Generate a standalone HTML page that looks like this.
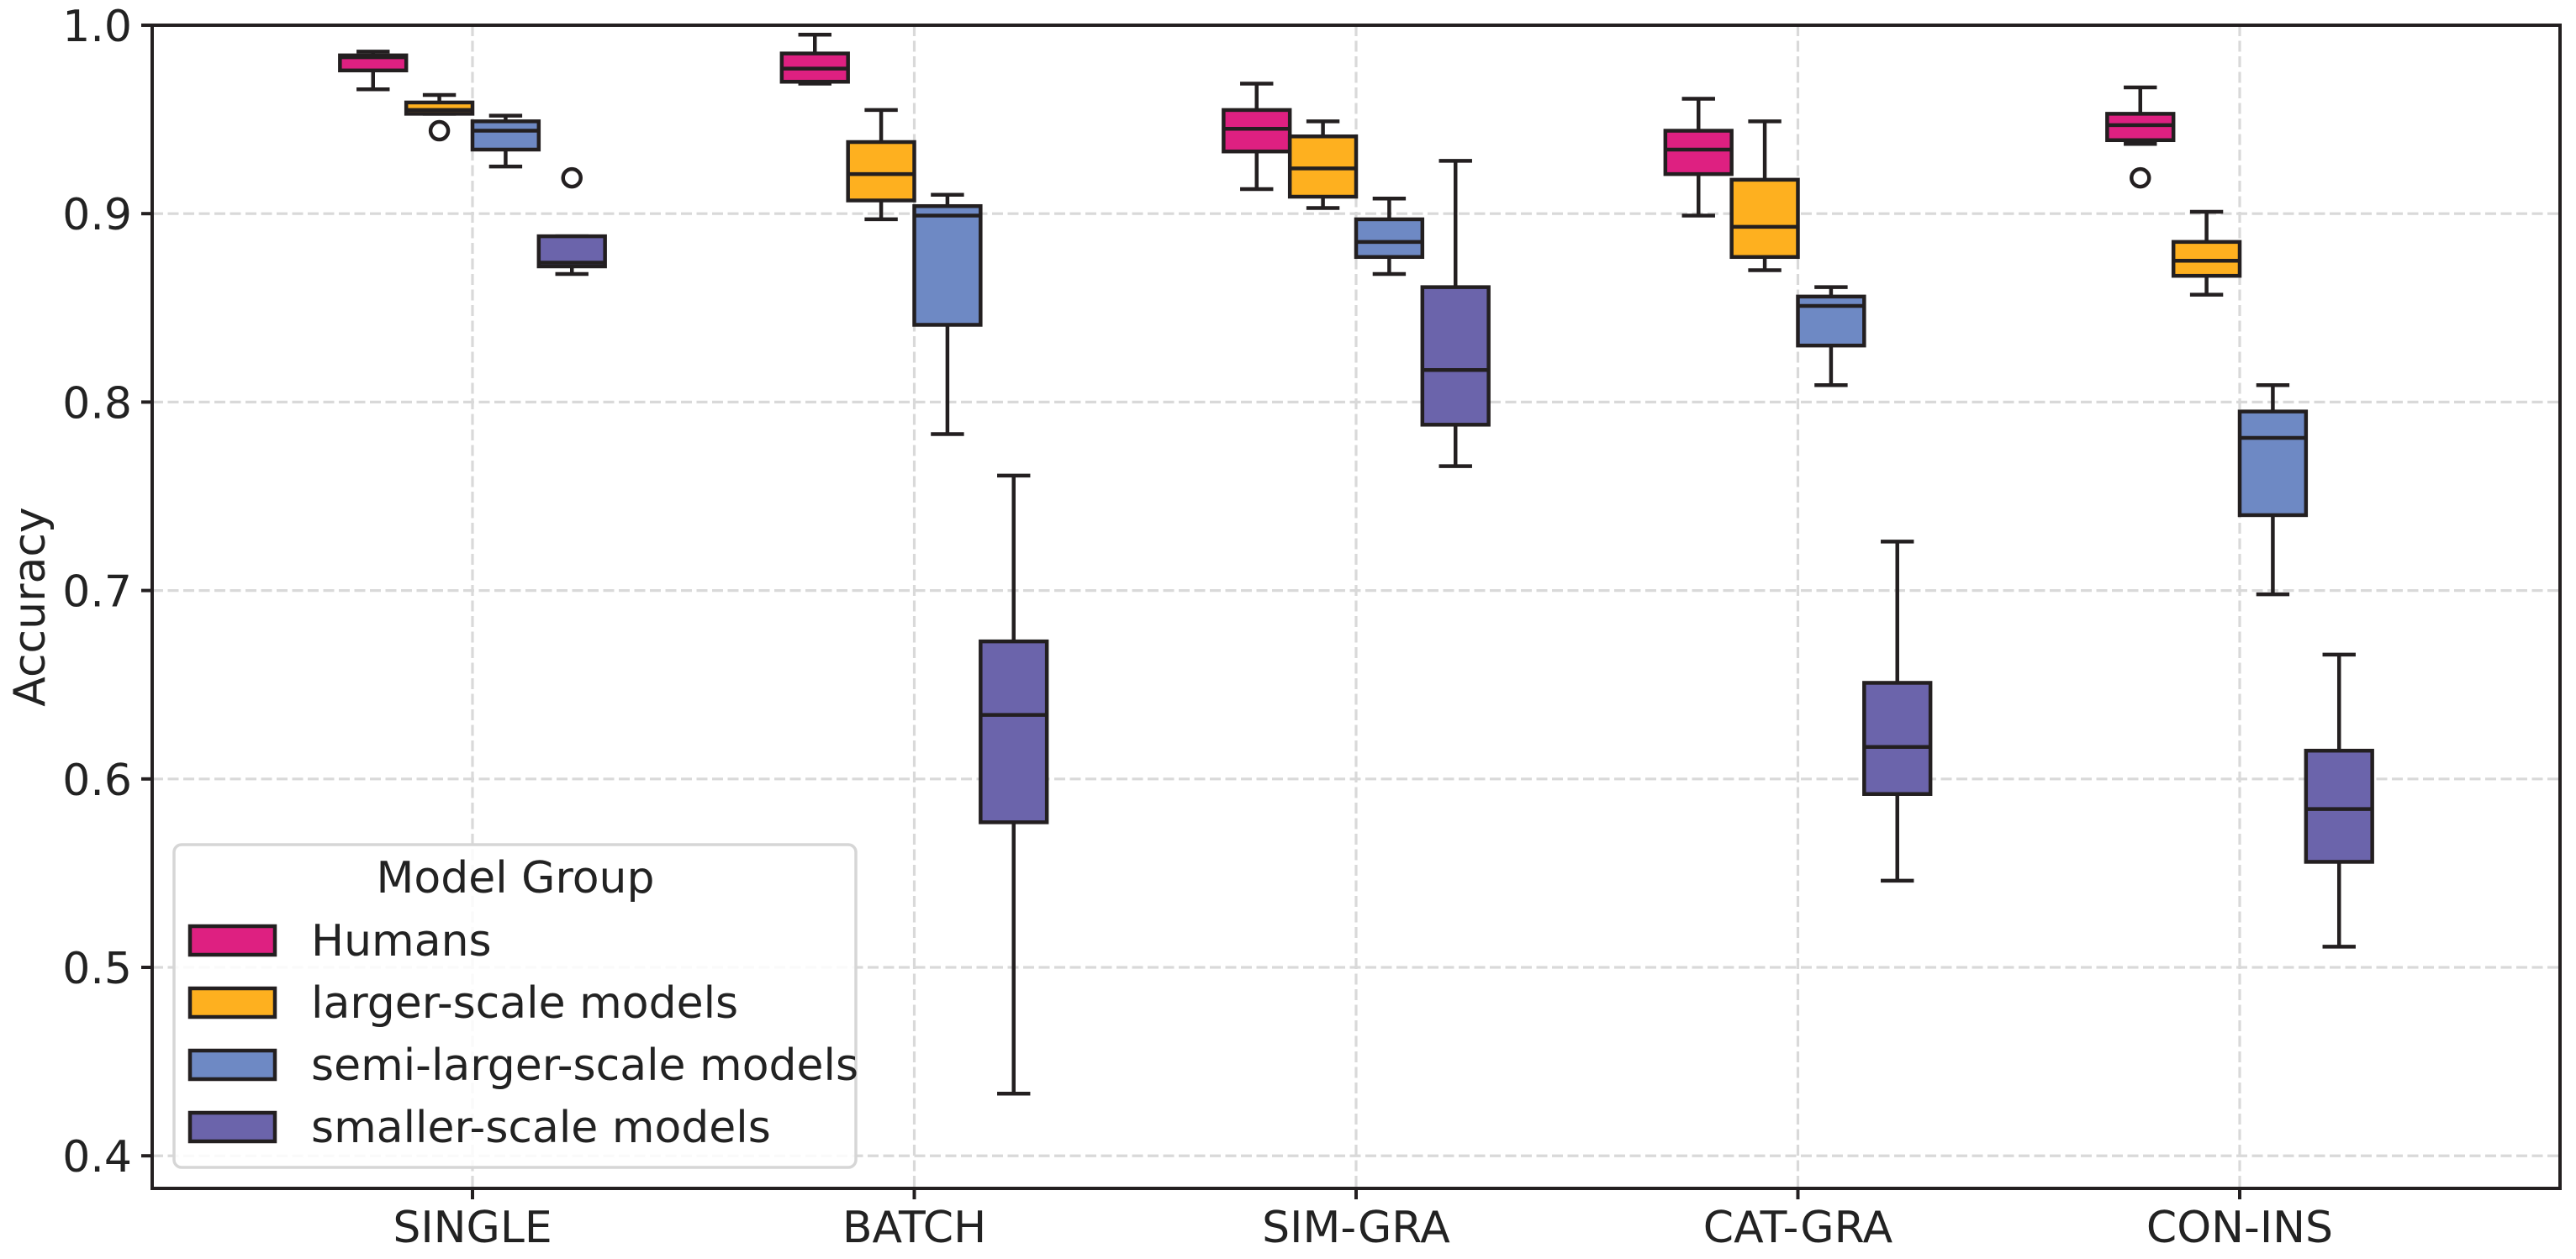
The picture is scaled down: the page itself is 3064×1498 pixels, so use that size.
<!DOCTYPE html>
<html>
<head>
<meta charset="utf-8">
<style>
  html, body { margin: 0; padding: 0; background: #ffffff; }
  svg { display: block; }
  text { font-family: "DejaVu Sans", "Liberation Sans", sans-serif; fill: #222222; }
</style>
</head>
<body>
<svg id="chart" xmlns="http://www.w3.org/2000/svg" width="3064" height="1498" viewBox="0 0 3064 1498">
  <rect x="0" y="0" width="3064" height="1498" fill="#ffffff"/>
  <g id="grid"></g>
  <g id="boxes"></g>
  <g id="axes"></g>
  <g id="legend"></g>
</svg>
<script>
const categories = ["SINGLE", "BATCH", "SIM-GRA", "CAT-GRA", "CON-INS"];
const groups = ["Humans", "larger-scale models", "semi-larger-scale models", "smaller-scale models"];
const yTicks = [0.4, 0.5, 0.6, 0.7, 0.8, 0.9, 1.0];
const yTickLabels = ["0.4", "0.5", "0.6", "0.7", "0.8", "0.9", "1.0"];
// each entry: [lowWhisker, q1, median, q3, highWhisker] per category
const humans = [
  [0.966, 0.976, 0.983, 0.984, 0.986],
  [0.969, 0.970, 0.977, 0.985, 0.995],
  [0.913, 0.933, 0.945, 0.955, 0.969],
  [0.899, 0.921, 0.934, 0.944, 0.961],
  [0.937, 0.939, 0.947, 0.953, 0.967]
];
const largerScale = [
  [0.953, 0.953, 0.955, 0.959, 0.963],
  [0.897, 0.907, 0.921, 0.938, 0.955],
  [0.903, 0.909, 0.924, 0.941, 0.949],
  [0.870, 0.877, 0.893, 0.918, 0.949],
  [0.857, 0.867, 0.875, 0.885, 0.901]
];
const semiLargerScale = [
  [0.925, 0.934, 0.944, 0.949, 0.952],
  [0.783, 0.841, 0.899, 0.904, 0.910],
  [0.868, 0.877, 0.885, 0.897, 0.908],
  [0.809, 0.830, 0.851, 0.856, 0.861],
  [0.698, 0.740, 0.781, 0.795, 0.809]
];
const smallerScale = [
  [0.868, 0.872, 0.874, 0.888, 0.888],
  [0.433, 0.577, 0.634, 0.673, 0.761],
  [0.766, 0.788, 0.817, 0.861, 0.928],
  [0.546, 0.592, 0.617, 0.651, 0.726],
  [0.511, 0.556, 0.584, 0.615, 0.666]
];
// outliers: [categoryIndex, value]
const humansOutliers = [[4, 0.919]];
const largerOutliers = [[0, 0.944]];
const semiOutliers = [];
const smallerOutliers = [[0, 0.919]];

const NS = "http://www.w3.org/2000/svg";
const colors = ["#de2081", "#feb01f", "#6e89c4", "#6b64ab"];
const ink = "#231f20";
const plotL = 181, plotR = 3045, plotT = 30, plotB = 1414;
const yMin = 0.3827, yMax = 1.0;
const catStart = 562, catStep = 525.5;
const hueStep = 0.15 * catStep;
const boxW = 0.15 * catStep;

function yScale(v) { return plotB - (v - yMin) / (yMax - yMin) * (plotB - plotT); }
function xCat(i) { return catStart + i * catStep; }
function xHue(i, h) { return xCat(i) + (h - 1.5) * hueStep; }

function mk(tag, attrs, parent) {
  const el = document.createElementNS(NS, tag);
  for (const k in attrs) el.setAttribute(k, attrs[k]);
  parent.appendChild(el);
  return el;
}

const grid = document.getElementById("grid");
const boxesG = document.getElementById("boxes");
const axes = document.getElementById("axes");
const legend = document.getElementById("legend");

// grid lines
yTicks.forEach((t, i) => {
  const y = yScale(t);
  const ln = mk("line", {x1: plotL, x2: plotR, y1: y, y2: y, stroke: "#d9d9d9", "stroke-width": 3.2, "stroke-dasharray": "13 5.5"}, grid);
  
  
});
categories.forEach((c, i) => {
  const x = xCat(i);
  const ln = mk("line", {x1: x, x2: x, y1: plotT, y2: plotB, stroke: "#d9d9d9", "stroke-width": 3.2, "stroke-dasharray": "13 5.5"}, grid);
  
  
});

// boxes
const seriesList = [humans, largerScale, semiLargerScale, smallerScale];
const outlierList = [humansOutliers, largerOutliers, semiOutliers, smallerOutliers];
seriesList.forEach((series, h) => {
  series.forEach((s, i) => {
    const cx = xHue(i, h);
    const g = mk("g", {}, boxesG);
    
    
    const yLo = yScale(s[0]), yQ1 = yScale(s[1]), yMed = yScale(s[2]), yQ3 = yScale(s[3]), yHi = yScale(s[4]);
    const sw = 4.5;
    const w1 = mk("line", {x1: cx, x2: cx, y1: yQ3, y2: yHi, stroke: ink, "stroke-width": sw}, g);
    
    
    const w2 = mk("line", {x1: cx, x2: cx, y1: yQ1, y2: yLo, stroke: ink, "stroke-width": sw}, g);
    
    
    const c1 = mk("line", {x1: cx - boxW / 4, x2: cx + boxW / 4, y1: yHi, y2: yHi, stroke: ink, "stroke-width": sw}, g);
    
    
    const c2 = mk("line", {x1: cx - boxW / 4, x2: cx + boxW / 4, y1: yLo, y2: yLo, stroke: ink, "stroke-width": sw}, g);
    
    
    const r = mk("rect", {x: cx - boxW / 2, y: yQ3, width: boxW, height: Math.max(0.5, yQ1 - yQ3), fill: colors[h], stroke: ink, "stroke-width": sw}, g);
    
    
    const m = mk("line", {x1: cx - boxW / 2, x2: cx + boxW / 2, y1: yMed, y2: yMed, stroke: ink, "stroke-width": sw}, g);
    
    
  });
  outlierList[h].forEach(o => {
    const c = mk("circle", {cx: xHue(o[0], h), cy: yScale(o[1]), r: 10.5, fill: "none", stroke: ink, "stroke-width": 4.5}, boxesG);
    
    
  });
});

// spines
const frame = mk("rect", {x: plotL, y: plotT, width: plotR - plotL, height: plotB - plotT, fill: "none", stroke: ink, "stroke-width": 4}, axes);



// y ticks
yTicks.forEach((t, i) => {
  const y = yScale(t);
  const tk = mk("line", {x1: plotL - 13, x2: plotL, y1: y, y2: y, stroke: ink, "stroke-width": 4}, axes);
  
  
  const tx = mk("text", {x: plotL - 24, y: y + 19, "text-anchor": "end", "font-size": 52}, axes);
  tx.textContent = yTickLabels[i];
  
  
});
// x ticks
categories.forEach((c, i) => {
  const x = xCat(i);
  const tk = mk("line", {x1: x, x2: x, y1: plotB, y2: plotB + 13, stroke: ink, "stroke-width": 4}, axes);
  
  
  const tx = mk("text", {x: x, y: 1478, "text-anchor": "middle", "font-size": 52}, axes);
  tx.textContent = c;
  
  
});
// y axis title
const yt = mk("text", {x: 0, y: 0, "text-anchor": "middle", "font-size": 52, transform: "translate(53," + ((plotT + plotB) / 2) + ") rotate(-90)"}, axes);
yt.textContent = "Accuracy";



// legend
const lf = mk("rect", {x: 207, y: 1005, width: 811, height: 384, rx: 9, fill: "#ffffff", "fill-opacity": 0.85, stroke: "#d6d6d6", "stroke-width": 3.5}, legend);


const lt = mk("text", {x: 613, y: 1062, "text-anchor": "middle", "font-size": 52}, legend);
lt.textContent = "Model Group";


groups.forEach((gname, h) => {
  const cy = 1119 + h * 74;
  const eg = mk("g", {}, legend);
  
  
  const p = mk("rect", {x: 226, y: cy - 17, width: 101, height: 34, fill: colors[h], stroke: ink, "stroke-width": 4.5}, eg);
  
  
  const t = mk("text", {x: 370, y: cy + 18, "font-size": 52}, eg);
  t.textContent = gname;
  
  
});
</script>
</body>
</html>
